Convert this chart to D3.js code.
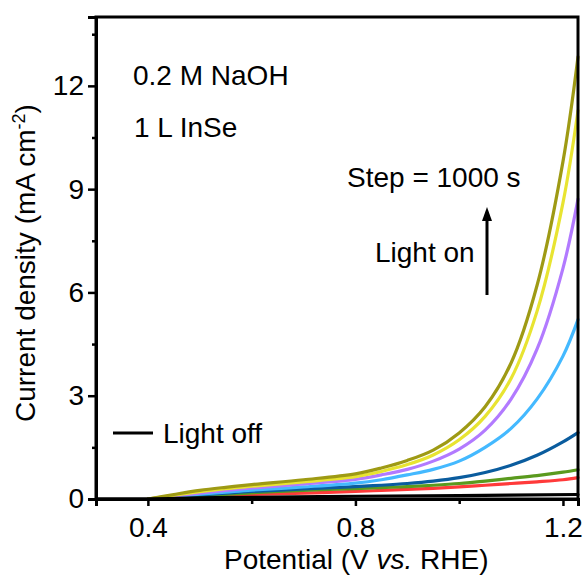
<!DOCTYPE html>
<html>
<head>
<meta charset="utf-8">
<script src="https://cdn.jsdelivr.net/npm/d3@7"></script>
<style>
	html, body { margin: 0; padding: 0; background: #fff; }
	svg text { font-family: "Liberation Sans", Arial, sans-serif; fill: #000; }
</style>
</head>
<body>
<div id="chart"></div>
<script>
// photocurrent scans, one per 1000 s step under illumination
const potential = [0.40, 0.45, 0.50, 0.55, 0.60, 0.70, 0.80, 0.85, 0.90, 0.95, 1.00, 1.05, 1.10, 1.15, 1.20, 1.229];
const stepColors = ["#ff3a3a", "#5a9a1e", "#0a5c9e", "#44b9ff", "#b27aff", "#e8e431", "#9e9a14"];
const stepCurrents = [
	[0.0, 0.03, 0.06, 0.10, 0.13, 0.17, 0.22, 0.25, 0.28, 0.31, 0.35, 0.40, 0.45, 0.50, 0.56, 0.62],
	[0.0, 0.04, 0.08, 0.13, 0.18, 0.25, 0.30, 0.33, 0.36, 0.40, 0.45, 0.52, 0.60, 0.68, 0.78, 0.85],
	[0.0, 0.06, 0.12, 0.17, 0.22, 0.29, 0.36, 0.40, 0.45, 0.52, 0.62, 0.77, 0.98, 1.27, 1.66, 1.93],
	[0.0, 0.07, 0.14, 0.20, 0.26, 0.35, 0.46, 0.56, 0.70, 0.86, 1.10, 1.50, 2.05, 2.90, 4.15, 5.21],
	[0.0, 0.09, 0.17, 0.25, 0.32, 0.44, 0.57, 0.70, 0.86, 1.10, 1.45, 2.00, 2.90, 4.35, 6.70, 8.71],
	[0.0, 0.11, 0.21, 0.30, 0.37, 0.50, 0.65, 0.80, 1.00, 1.28, 1.72, 2.40, 3.50, 5.45, 8.60, 11.28],
	[0.0, 0.13, 0.25, 0.34, 0.42, 0.56, 0.73, 0.90, 1.12, 1.42, 1.92, 2.68, 3.95, 6.20, 9.80, 12.84]
];
// dark scan
const darkPotential = [0.30, 0.40, 0.50, 0.60, 0.80, 1.00, 1.229];
const darkCurrent = [0.0, 0.0, 0.03, 0.05, 0.08, 0.10, 0.13];

const xTicks = [0.4, 0.8, 1.2];
const xMinor = [0.6, 1.0];
const yTicks = [0, 3, 6, 9, 12];
const yMinor = [1.5, 4.5, 7.5, 10.5, 13.5];

const width = 585;
const height = 576;
const margin = {top: 17, right: 7, bottom: 77, left: 96};
const fontSize = 28;

const svg = d3.select("#chart")
	.append("svg")
	.attr("width", width)
	.attr("height", height);

const x = d3.scaleLinear()
	.domain([0.3, 1.229])
	.range([margin.left, width - margin.right]);
const y = d3.scaleLinear()
	.domain([0, 14])
	.range([height - margin.bottom, margin.top]);

const line = d3.line()
	.x(d => x(d[0]))
	.y(d => y(d[1]))
	.curve(d3.curveCatmullRom.alpha(0.5));

const curves = svg.append("g")
	.attr("fill", "none")
	.attr("stroke-width", 3.2)
	.attr("stroke-linecap", "round");

stepCurrents.forEach((vals, i) => {
	curves.append("path")
		.datum(potential.map((p, k) => [p, vals[k]]))
		.attr("stroke", stepColors[i])
		.attr("d", line);
});

curves.append("path")
	.datum(darkPotential.map((p, k) => [p, darkCurrent[k]]))
	.attr("stroke", "#000")
	.attr("d", line);

// frame: top and right edges without ticks
svg.append("rect")
	.attr("x", x.range()[0])
	.attr("y", y.range()[1])
	.attr("width", x.range()[1] - x.range()[0])
	.attr("height", y.range()[0] - y.range()[1])
	.attr("fill", "none")
	.attr("stroke", "#000")
	.attr("stroke-width", 3);

svg.append("g")
	.attr("transform", `translate(0,${y(0)})`)
	.call(d3.axisBottom(x).tickValues(xTicks).tickSize(7).tickPadding(11).tickFormat(d3.format(".1f")));
svg.append("g")
	.attr("transform", `translate(0,${y(0)})`)
	.call(d3.axisBottom(x).tickValues(xMinor).tickSize(5).tickFormat(""));

svg.append("g")
	.attr("transform", `translate(${x.range()[0]},0)`)
	.call(d3.axisLeft(y).tickValues(yTicks).tickSize(8).tickPadding(4).tickFormat(d3.format("d")));
svg.append("g")
	.attr("transform", `translate(${x.range()[0]},0)`)
	.call(d3.axisLeft(y).tickValues(yMinor).tickSize(4).tickFormat(""));

svg.selectAll(".domain")
	.attr("stroke-width", 3);
svg.selectAll(".tick line")
	.attr("stroke-width", 2.5);
svg.selectAll(".tick text")
	.style("font-size", fontSize + "px")
	.style("font-family", "'Liberation Sans', Arial, sans-serif");

// axis titles
svg.append("text")
	.attr("x", 224)
	.attr("y", 569)
	.style("font-size", fontSize + "px")
	.call(t => {
		t.append("tspan").text("Potential (V ");
		t.append("tspan").style("font-style", "italic").text("vs.");
		t.append("tspan").text(" RHE)");
	});

svg.append("text")
	.attr("transform", "translate(35,422) rotate(-90)")
	.style("font-size", fontSize + "px")
	.call(t => {
		t.append("tspan").text("Current density (mA cm");
		t.append("tspan").attr("dy", -10).style("font-size", "18px").text("-2");
		t.append("tspan").attr("dy", 10).text(")");
	});

// annotations
const notes = [
	{text: "0.2 M NaOH", x: 133, y: 85},
	{text: "1 L InSe", x: 134, y: 137},
	{text: "Step = 1000 s", x: 347, y: 187},
	{text: "Light on", x: 375, y: 262},
	{text: "Light off", x: 163, y: 443}
];
svg.selectAll(".note")
	.data(notes)
	.join("text")
	.attr("class", "note")
	.attr("x", d => d.x)
	.attr("y", d => d.y)
	.style("font-size", fontSize + "px")
	.text(d => d.text);

svg.append("line")
	.attr("x1", 113).attr("x2", 153)
	.attr("y1", 433).attr("y2", 433)
	.attr("stroke", "#000")
	.attr("stroke-width", 3);

// upward arrow next to "Light on"
svg.append("line")
	.attr("x1", 487).attr("x2", 487)
	.attr("y1", 295).attr("y2", 218)
	.attr("stroke", "#000")
	.attr("stroke-width", 3);
svg.append("path")
	.attr("d", "M487,207 L492,221 L482,221 Z")
	.attr("fill", "#000");
</script>
</body>
</html>
